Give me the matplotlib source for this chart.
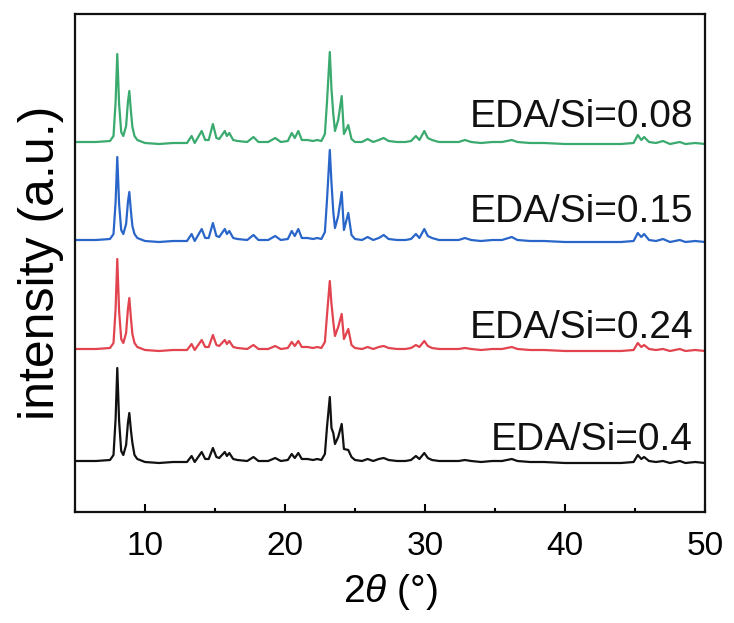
import matplotlib
matplotlib.use("Agg")
import matplotlib.pyplot as plt
from matplotlib.ticker import MultipleLocator

plt.rcParams['font.family'] = ['Liberation Sans', 'DejaVu Sans']
plt.rcParams['mathtext.fontset'] = 'custom'
plt.rcParams['mathtext.it'] = 'Liberation Sans:italic'
plt.rcParams['mathtext.rm'] = 'Liberation Sans'

# 2theta vertices (shared by all traces)
two_theta = [
    5.0, 6.5, 7.5, 7.75, 7.9, 8.02, 8.15, 8.3, 8.45, 8.65, 8.78, 8.88, 9.0, 9.1, 9.25, 9.45,
    10.0, 11.0, 12.0, 13.0, 13.33, 13.55, 14.05, 14.3, 14.55, 14.85, 15.1, 15.3, 15.7, 15.85, 16.02, 16.3,
    16.6, 17.3, 17.75, 18.1, 18.8, 19.3, 19.7, 20.2, 20.48, 20.7, 20.95, 21.2, 21.6, 22.0, 22.3, 22.6,
    22.85, 23.0, 23.2, 23.32, 23.45, 23.57, 23.8, 24.05, 24.21, 24.52, 24.75, 25.0,
    25.5, 25.9, 26.3, 26.7, 27.05, 27.4, 28.0, 28.6, 29.0, 29.35, 29.6, 29.95, 30.2, 30.5,
    31.0, 31.8, 32.4, 32.85, 33.3, 34.0, 34.8, 35.5, 36.2, 36.6, 37.5, 38.5, 40.0, 42.0,
    44.0, 44.9, 45.2, 45.45, 45.65, 46.0, 46.5, 47.0, 47.5, 48.2, 48.6, 49.3, 50.0,
]

# intensities (a.u.) at those vertices, one list per sample
int_008 = [
    0, 0, 1, 6, 40, 88, 38, 10, 6, 16, 40, 51, 30, 15, 6, 2,
    -1, -2, -1, -1, 6, -1, 11, 2, 2, 18, 4, 3, 11, 6, 9, 2,
    1, 0, 5, 0, 0, 4, 0, 1, 9, 4, 11, 2, 2, 1, 2, 1,
    8, 40, 90, 53, 28, 11, 22, 46, 8, 17, 3, 0,
    0, 3, 0, 2, 4, 1, 0, 0, 1, 6, 2, 11, 4, 2,
    0, 0, 0, 2, 0, -1, 0, 0, 2, 0, -1, -1, -2, -2,
    -2, -1, 7, 2, 5, 0, -1, 1, -2, 0, -2, -1, -2,
]
int_015 = [
    0, 0, 1, 6, 38, 83, 36, 10, 6, 16, 38, 48, 28, 14, 6, 2,
    -1, -2, -1, -1, 6, -1, 11, 2, 2, 17, 4, 3, 11, 6, 9, 2,
    1, 0, 5, 0, 0, 4, 0, 1, 9, 4, 11, 2, 2, 1, 2, 1,
    8, 40, 90, 57, 28, 12, 24, 48, 10, 27, 5, 1,
    0, 3, 0, 2, 5, 1, 0, 0, 1, 6, 2, 11, 4, 2,
    0, 0, 0, 2, 0, -1, 0, 0, 3, 0, -1, -1, -2, -2,
    -2, -1, 7, 3, 6, 0, -1, 1, -2, 0, -2, -1, -2,
]
int_024 = [
    0, 0, 1, 6, 40, 90, 38, 10, 6, 16, 40, 51, 30, 15, 6, 2,
    -1, -2, -1, -1, 5, -1, 9, 2, 2, 14, 4, 3, 9, 5, 8, 2,
    1, 0, 4, 0, 0, 3, 0, 1, 7, 3, 8, 2, 2, 1, 2, 1,
    7, 34, 68, 45, 27, 13, 22, 35, 10, 20, 4, 1,
    0, 2, 0, 2, 3, 1, 0, 0, 1, 4, 2, 8, 3, 1,
    0, 0, 0, 1, 0, -1, 0, 0, 2, 0, -1, -1, -2, -2,
    -2, -1, 6, 2, 4, 0, -1, 0, -2, 0, -2, -1, -2,
]
int_040 = [
    0, 0, 1, 6, 42, 93, 40, 10, 6, 16, 38, 48, 30, 18, 6, 2,
    -1, -2, -1, -1, 5, -1, 9, 2, 2, 13, 4, 3, 9, 5, 8, 2,
    1, 0, 4, 0, 0, 3, 0, 1, 7, 3, 8, 2, 2, 1, 2, 1,
    7, 34, 64, 33, 28, 17, 24, 37, 12, 11, 4, 1,
    0, 2, 0, 2, 3, 1, 0, 0, 1, 5, 2, 8, 3, 1,
    0, 0, 0, 1, 0, -1, 0, 0, 2, 0, -1, -1, -2, -2,
    -2, -1, 6, 2, 4, 0, -1, 0, -2, 0, -2, -1, -2,
]

labels = ['EDA/Si=0.4', 'EDA/Si=0.24', 'EDA/Si=0.15', 'EDA/Si=0.08']
series = [int_040, int_024, int_015, int_008]
offsets = [0, 112, 221, 319]
label_y = [11, 123, 239, 334]
colors = ['#111111', '#e2444f', '#2a66c9', '#3aaa6e']

for s in series:
    assert len(s) == len(two_theta)

fig = plt.figure(figsize=(7.34, 6.23), dpi=100)
ax = fig.add_axes([75 / 734, 1 - 512 / 623, 630 / 734, 498 / 623])

for ys, off, c, lab, ly in zip(series, offsets, colors, labels, label_y):
    ax.plot(two_theta, [v + off for v in ys], color=c, lw=1.6, solid_joinstyle='round')
    ax.text(49.15, ly, lab, ha='right', va='baseline', fontsize=28, color='#111111')

ax.set_xlim(5, 50)
ax.set_ylim(-51, 447)
ax.xaxis.set_major_locator(MultipleLocator(10))
ax.xaxis.set_minor_locator(MultipleLocator(5))
ax.tick_params(axis='x', which='major', direction='in', length=6, width=1.5,
               labelsize=24, pad=14, top=False)
ax.tick_params(axis='x', which='minor', direction='in', length=3, width=1.5, top=False)
ax.set_yticks([])
for sp in ax.spines.values():
    sp.set_linewidth(1.6)
    sp.set_color('#111111')

ax.set_xlabel(r'$2\theta$ (°)', fontsize=28, labelpad=7)
ax.set_ylabel('intensity (a.u.)', fontsize=36, labelpad=8)

fig.savefig('out.png', dpi=100)
